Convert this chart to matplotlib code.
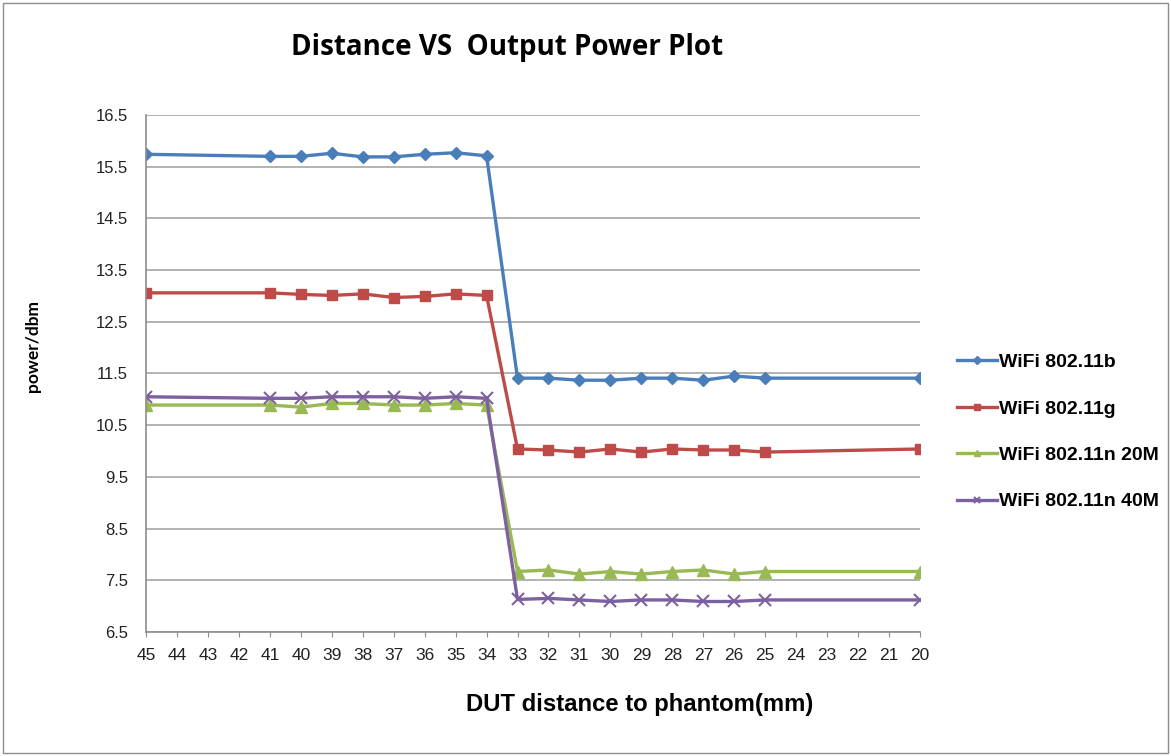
import matplotlib
matplotlib.use("Agg")
import matplotlib.pyplot as plt
from matplotlib.patches import Rectangle

distance = [45, 41, 40, 39, 38, 37, 36, 35, 34, 33, 32, 31, 30, 29, 28, 27, 26, 25, 20]
wifi_b = [15.74, 15.70, 15.70, 15.76, 15.69, 15.69, 15.74, 15.77, 15.71,
          11.41, 11.41, 11.37, 11.37, 11.41, 11.41, 11.37, 11.45, 11.41, 11.41]
wifi_g = [13.06, 13.06, 13.03, 13.01, 13.04, 12.97, 12.99, 13.04, 13.01,
          10.04, 10.02, 9.98, 10.04, 9.98, 10.04, 10.02, 10.02, 9.98, 10.04]
wifi_n20 = [10.89, 10.89, 10.85, 10.92, 10.92, 10.89, 10.89, 10.92, 10.89,
            7.67, 7.70, 7.62, 7.67, 7.62, 7.67, 7.70, 7.62, 7.67, 7.67]
wifi_n40 = [11.05, 11.02, 11.02, 11.05, 11.05, 11.05, 11.02, 11.05, 11.02,
            7.13, 7.15, 7.12, 7.09, 7.12, 7.12, 7.09, 7.09, 7.12, 7.12]
series_labels = ["WiFi 802.11b", "WiFi 802.11g", "WiFi 802.11n 20M", "WiFi 802.11n 40M"]
y_ticks = [6.5, 7.5, 8.5, 9.5, 10.5, 11.5, 12.5, 13.5, 14.5, 15.5, 16.5]
x_ticks = list(range(45, 19, -1))

W, H = 1171, 756
fig = plt.figure(figsize=(W / 100, H / 100), dpi=100)
ax = fig.add_axes([146 / W, 1 - 632 / H, (920 - 146) / W, (632 - 115) / H])

styles = [
    dict(color="#4A7EBB", marker="D", markersize=6.5),
    dict(color="#BE4B48", marker="s", markersize=7.5),
    dict(color="#98B954", marker="^", markersize=8),
    dict(color="#7D60A0", marker="x", markersize=8, markeredgewidth=1.5),
]
for data, lab, st in zip([wifi_b, wifi_g, wifi_n20, wifi_n40], series_labels, styles):
    ax.plot(distance, data, linewidth=2.4, label=lab, **st)

ax.set_xlim(45, 20)
ax.set_ylim(6.5, 16.5)
ax.set_yticks(y_ticks)
ax.set_yticklabels([f"{v:.1f}" for v in y_ticks])
ax.set_xticks(x_ticks)
ax.set_xticklabels([str(v) for v in x_ticks])
ax.grid(axis="y", color="#A6A6A6", linewidth=1.2)
ax.set_axisbelow(True)
for s in ["top", "right"]:
    ax.spines[s].set_visible(False)
for s in ["left", "bottom"]:
    ax.spines[s].set_color("#8C8C8C")
    ax.spines[s].set_linewidth(1.2)
ax.tick_params(axis="y", length=0, pad=13, labelsize=12, colors="#8C8C8C", labelcolor="#222222")
ax.tick_params(axis="x", length=3.5, direction="out", pad=8, labelsize=12.5, colors="#8C8C8C", labelcolor="#222222")
for lbl in ax.get_xticklabels() + ax.get_yticklabels():
    lbl.set_fontfamily("Liberation Sans")

fig.text(507 / W, 1 - 48 / H, "Distance VS  Output Power Plot", ha="center", va="center",
         fontsize=20, fontweight="bold", family="Open Sans")
fig.text(33 / W, 1 - 346 / H, "power/dbm", rotation=90, ha="center", va="center",
         fontsize=12.5, fontweight="bold", family="Lato")
fig.text(640 / W, 1 - 705 / H, "DUT distance to phantom(mm)", ha="center", va="center",
         fontsize=17.2, fontweight="bold", family="Liberation Sans")

leg = fig.legend(loc="upper left", bbox_to_anchor=(943 / W, 1 - 340 / H), frameon=False,
                 prop={"family": "Liberation Sans", "weight": "bold", "size": 14},
                 handlelength=2.1, handletextpad=0.1, labelspacing=1.48, markerscale=0.6,
                 borderpad=0.2)

fig.patches.append(Rectangle((3 / W, 3 / H), 1 - 6 / W, 1 - 6 / H, transform=fig.transFigure,
                             fill=False, edgecolor="#8C8C8C", linewidth=1.0))

fig.savefig("out.png", dpi=100)
